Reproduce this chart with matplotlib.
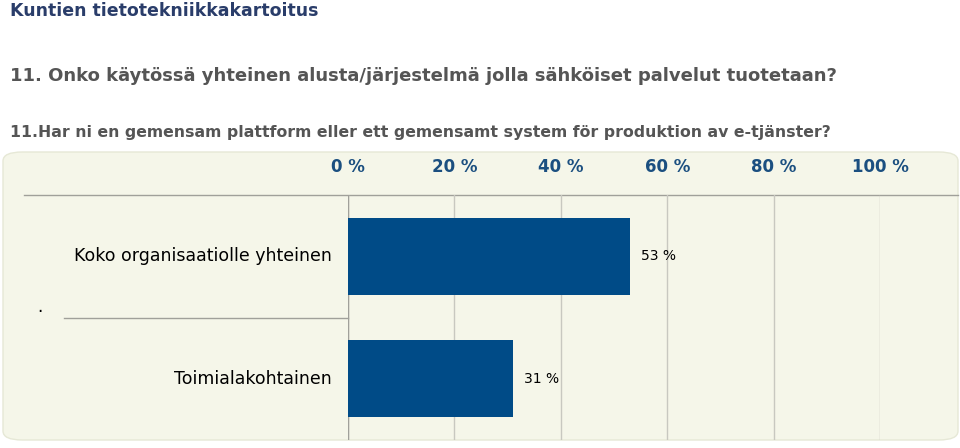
import matplotlib.pyplot as plt
from matplotlib.patches import FancyBboxPatch
from matplotlib.lines import Line2D

categories = ["Koko organisaatiolle yhteinen", "Toimialakohtainen"]
values = [53, 31]
ticks = [0, 20, 40, 60, 80, 100]

W, H = 960, 448
fig = plt.figure(figsize=(W / 100, H / 100), dpi=100)
fig.patch.set_facecolor("white")

# panel background
panel = FancyBboxPatch((3 / W, 8 / H), 955 / W, 288 / H, boxstyle="round,pad=0,rounding_size=0.02",
                       transform=fig.transFigure, facecolor="#f5f6e9", edgecolor="#e6e8d6", lw=1,
                       zorder=-5)
fig.patches.append(panel)

fig.text(10 / W, 1 - 11 / H, "Kuntien tietotekniikkakartoitus", fontsize=12.5, fontweight="bold",
         color="#2a3d6a", va="center", ha="left")
fig.text(10 / W, 1 - 76 / H, "11. Onko käytössä yhteinen alusta/järjestelmä jolla sähköiset palvelut tuotetaan?",
         fontsize=13, fontweight="bold", color="#555555", va="center", ha="left")
fig.text(10 / W, 1 - 133 / H, "11.Har ni en gemensam plattform eller ett gemensamt system för produktion av e-tjänster?",
         fontsize=11.3, fontweight="bold", color="#555555", va="center", ha="left")

ax = fig.add_axes([348 / W, 8 / H, 532 / W, 245 / H], zorder=2)
ax.set_facecolor("none")
ypos = list(range(len(categories)))
ax.barh(ypos, values, height=0.63, color="#004b87", zorder=3)
ax.set_xlim(0, 100)
ax.set_ylim(1.5, -0.5)
ax.set_xticks(ticks)
ax.set_xticklabels([f"{t} %" for t in ticks], fontsize=12, fontweight="bold", color="#1b4f80")
ax.xaxis.tick_top()
ax.tick_params(axis="x", length=0, pad=14)
ax.set_yticks([])
ax.grid(axis="x", color="#c8c8c0", lw=1)
ax.set_axisbelow(True)
for s in ax.spines.values():
    s.set_visible(False)
ax.axvline(0, color="#a0a09a", lw=1)
for i, (c, v) in enumerate(zip(categories, values)):
    ax.text(-3, i, c, ha="right", va="center", fontsize=12.5, color="black", clip_on=False)
    ax.text(v + 2, i, f"{v} %", ha="left", va="center", fontsize=10, color="black")

fig.add_artist(Line2D([24 / W, 958 / W], [1 - 195 / H, 1 - 195 / H], color="#a0a09a", lw=1))
fig.add_artist(Line2D([64 / W, 348 / W], [1 - 318 / H, 1 - 318 / H], color="#a0a09a", lw=1))
fig.text(40 / W, 1 - 316 / H, ".", fontsize=12, ha="center", va="bottom")

fig.savefig("out.png", dpi=100)
